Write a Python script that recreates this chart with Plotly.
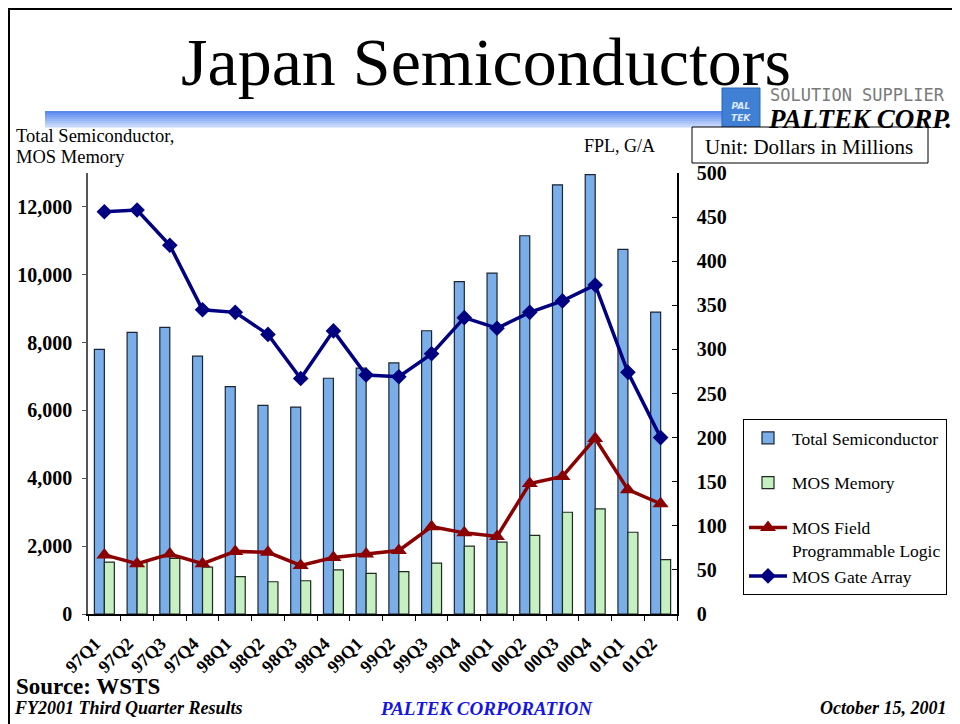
import plotly.graph_objects as go

# Data (US$ millions)
quarters = ["97Q1", "97Q2", "97Q3", "97Q4", "98Q1", "98Q2", "98Q3", "98Q4",
            "99Q1", "99Q2", "99Q3", "99Q4", "00Q1", "00Q2", "00Q3", "00Q4",
            "01Q1", "01Q2"]
total_semi = [7800, 8300, 8450, 7600, 6700, 6150, 6100, 6950, 7250, 7400,
              8350, 9800, 10050, 11150, 12650, 12950, 10750, 8900]
mos_memory = [1530, 1520, 1640, 1380, 1100, 950, 980, 1300, 1200, 1250,
              1500, 2000, 2120, 2320, 3000, 3100, 2410, 1600]
mos_fpl = [67, 57, 68, 57, 71, 70, 55, 64, 68, 72, 99, 92, 88, 148, 156,
           199, 141, 125]
mos_gate_array = [456, 458, 418, 345, 342, 317, 267, 321, 271, 269, 295,
                  336, 324, 342, 355, 373, 274, 200]

SERIF = "Liberation Serif, Times New Roman, serif"

# page is 960x724; the html body adds an 8px margin, so the figure is
# drawn 8px in from the top-left corner
W, H = 960, 724
OFF = 8
# plot area in page pixels
PL, PR, PT, PB = 88, 677, 173, 614


def px(x):
    return (x - PL) / (PR - PL)


def py(y):
    return (PB - y) / (PB - PT)


fig = go.Figure()

fig.add_trace(go.Bar(
    x=quarters, y=total_semi, name="Total Semiconductor",
    legendgroup="a",
    marker=dict(color="#7aaee8", line=dict(color="#1c2433", width=1.2)),
))
fig.add_trace(go.Bar(
    x=quarters, y=mos_memory, name="MOS Memory",
    legendgroup="b",
    marker=dict(color="#c6efc2", line=dict(color="#1f2a1f", width=1.2)),
))
fig.add_trace(go.Scatter(
    x=quarters, y=mos_fpl, yaxis="y2", mode="lines+markers",
    name="MOS Field<br>Programmable Logic", legendgroup="c",
    line=dict(color="#8b0000", width=3.5),
    marker=dict(symbol="triangle-up", size=14, color="#8b0000"),
))
fig.add_trace(go.Scatter(
    x=quarters, y=mos_gate_array, yaxis="y2", mode="lines+markers",
    name="MOS Gate Array", legendgroup="c",
    line=dict(color="#000080", width=3.5),
    marker=dict(symbol="diamond", size=12, color="#000080"),
))

annotations = []


def note(text, x, y, size, xanchor="left", color="black", weight="normal",
         style="normal", family=SERIF):
    annotations.append(dict(
        text=text, x=px(x), y=py(y), xref="paper", yref="paper",
        xanchor=xanchor, yanchor="middle", showarrow=False,
        font=dict(family=family, size=size, color=color, weight=weight,
                  style=style),
    ))


note("Japan Semiconductors", 486, 62, 68, xanchor="center")
note("Total Semiconductor,", 14, 136, 18.5)
note("MOS Memory", 14, 157, 18.5)
note("FPL, G/A", 582, 146, 18)
note("Unit: Dollars in Millions", 703, 147, 21)
note("Source: WSTS", 14, 686, 23, weight="bold")
note("FY2001 Third Quarter Results", 12, 708, 18, weight="bold", style="italic")
note("PALTEK CORPORATION", 486, 708, 19, xanchor="center", color="#1414e6",
     weight="bold", style="italic")
note("October 15, 2001", 948, 708, 18, xanchor="right", weight="bold",
     style="italic")
note("SOLUTION SUPPLIER", 768, 95, 17, color="#7a7a7a",
     family="DejaVu Sans Mono, monospace")
note("PALTEK CORP.", 766, 119, 27, weight="bold", style="italic")
note("PAL<br>TEK", 741, 112, 9, xanchor="center", color="#dce9fb",
     weight="bold", style="italic", family="DejaVu Sans, sans-serif")

shapes = []
# gradient banner under the title (horizontal stripes)
stripes = ["#5b88ee", "#6993f0", "#789ef2", "#88aaf4", "#98b6f6",
           "#a8c2f8", "#b8cef9", "#c6d8fb"]
top, bottom = 111, 127
step = (bottom - top) / len(stripes)
for i, c in enumerate(stripes):
    shapes.append(dict(type="rect", xref="paper", yref="paper",
                       x0=px(45), x1=px(722), y0=py(top + i * step),
                       y1=py(top + (i + 1) * step + 0.5),
                       fillcolor=c, line=dict(width=0), layer="below"))
# logo icon
shapes.append(dict(type="rect", xref="paper", yref="paper",
                   x0=px(722), x1=px(760), y0=py(88), y1=py(128),
                   fillcolor="#3f7fd4", line=dict(color="#2a64b4", width=1)))
# unit box
shapes.append(dict(type="rect", xref="paper", yref="paper",
                   x0=px(692), x1=px(928), y0=py(127), y1=py(163),
                   fillcolor="white", line=dict(color="black", width=1)))
# page frame
shapes.append(dict(type="rect", xref="paper", yref="paper",
                   x0=px(9), x1=px(980), y0=py(9), y1=py(740),
                   line=dict(color="black", width=2)))

fig.update_layout(
    width=W - OFF, height=H - OFF,
    margin=dict(l=PL - OFF, r=W - PR, t=PT - OFF, b=H - PB,
                autoexpand=False),
    paper_bgcolor="white", plot_bgcolor="white",
    barmode="group", bargap=0.39, bargroupgap=0,
    font=dict(family=SERIF, color="black"),
    xaxis=dict(
        range=[-0.5, len(quarters) - 0.5],
        showline=True, linecolor="black", linewidth=2, mirror=False,
        ticks="outside", tickson="boundaries", ticklen=5, tickcolor="black",
        tickangle=-45, showgrid=False, ticklabelstandoff=10,
        ticklabelshift=-9,
        tickfont=dict(family=SERIF, size=18, weight="bold"),
    ),
    yaxis=dict(
        range=[0, 13000], tick0=0, dtick=2000, tickformat=",",
        showline=True, linecolor="#555555", linewidth=1.5,
        ticks="outside", ticklen=4, tickcolor="#555555", showgrid=False,
        zeroline=False, ticklabelstandoff=6,
        tickfont=dict(family=SERIF, size=20, weight="bold"),
    ),
    yaxis2=dict(
        range=[0, 500], tick0=0, dtick=50, overlaying="y", side="right",
        showline=True, linecolor="black", linewidth=1.5,
        ticks="inside", ticklen=5, tickcolor="black", showgrid=False,
        zeroline=False, ticklabelstandoff=14,
        tickfont=dict(family=SERIF, size=20, weight="bold"),
    ),
    legend=dict(
        x=px(743), y=py(419), xanchor="left", yanchor="top",
        bgcolor="white", bordercolor="black", borderwidth=1,
        font=dict(family=SERIF, size=17.5), itemwidth=38,
        tracegroupgap=19, valign="top", traceorder="grouped",
    ),
    annotations=annotations,
    shapes=shapes,
)

fig.write_html("out.html")
